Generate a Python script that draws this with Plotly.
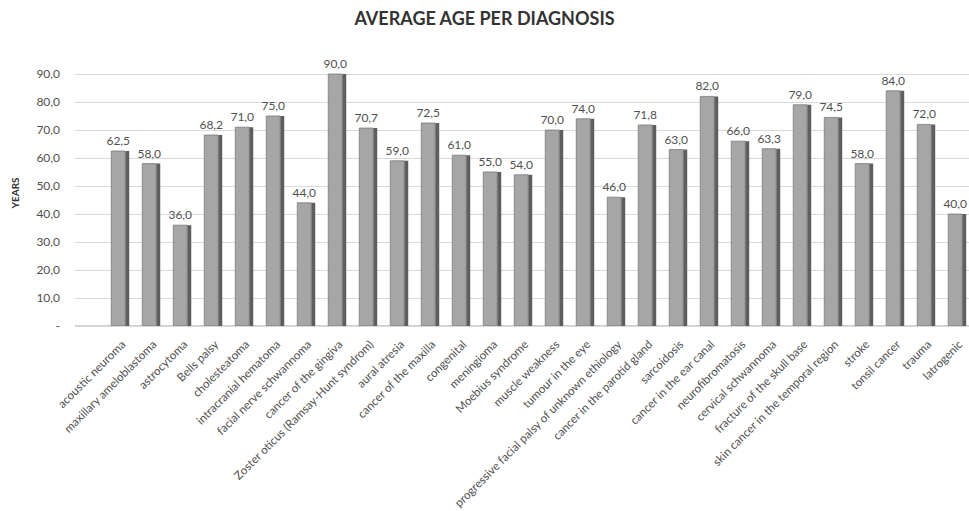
import plotly.graph_objects as go

categories = [
    "acoustic neuroma", "maxillary ameloblastoma", "astrocytoma", "Bells palsy",
    "cholesteatoma", "intracranial hematoma", "facial nerve schwannoma",
    "cancer of the gingiva", "Zoster oticus (Ramsay-Hunt syndrom)", "aural atresia",
    "cancer of the maxilla", "congenital", "meningioma", "Moebius syndrome",
    "muscle weakness", "tumour in the eye", "progressive facial palsy of unknown ethiology",
    "cancer in the parotid gland", "sarcoidosis", "cancer in the ear canal",
    "neurofibromatosis", "cervical schwannoma", "fracture of the skull base",
    "skin cancer in the temporal region", "stroke", "tonsil cancer", "trauma", "Iatrogenic",
]
avg_age = [62.5, 58.0, 36.0, 68.2, 71.0, 75.0, 44.0, 90.0, 70.7, 59.0, 72.5, 61.0,
           55.0, 54.0, 70.0, 74.0, 46.0, 71.8, 63.0, 82.0, 66.0, 63.3, 79.0, 74.5,
           58.0, 84.0, 72.0, 40.0]
y_ticks = [0, 10, 20, 30, 40, 50, 60, 70, 80, 90]
y_ticktext = ["-", "10,0", "20,0", "30,0", "40,0", "50,0", "60,0", "70,0", "80,0", "90,0"]

FONT = "Lato, Open Sans, sans-serif"

fig = go.Figure()
# side face (3D shading)
fig.add_trace(go.Bar(
    x=categories, y=avg_age, width=0.13, offset=0.1,
    marker=dict(color="#5e5e5e", line=dict(width=0)),
    hoverinfo="skip", showlegend=False,
))
# front face
fig.add_trace(go.Bar(
    x=categories, y=avg_age, width=0.45, offset=-0.35,
    marker=dict(color="#a6a6a6", line=dict(color="#7a7a7a", width=0.8)),
    texttemplate="%{y:.1f}", textposition="outside", constraintext="none",
    textfont=dict(family=FONT, size=12, color="#505050"),
    cliponaxis=False, showlegend=False,
))

fig.update_layout(
    width=969, height=511,
    margin=dict(l=75, r=0, t=60, b=185),
    paper_bgcolor="white", plot_bgcolor="white",
    barmode="overlay",
    separators=",.",
    title=dict(text="<b>AVERAGE AGE PER DIAGNOSIS</b>", x=0.5, xanchor="center",
               y=0.975, yanchor="top",
               font=dict(family=FONT, size=18, color="#333333")),
    font=dict(family=FONT, color="#505050"),
)
fig.update_xaxes(
    range=[-1.52, 27.32], tickangle=-45, tickfont=dict(size=11.6, color="#505050"),
    showgrid=False, showline=True, linecolor="#d9d9d9", ticks="",
    ticklabelstandoff=6,
)
fig.update_yaxes(
    range=[0, 95], tickvals=y_ticks, ticktext=y_ticktext,
    tickfont=dict(size=12, color="#505050"),
    showgrid=True, gridcolor="#d9d9d9", gridwidth=1,
    zeroline=True, zerolinecolor="#d0d0d0",
    title=dict(text="<b>YEARS</b>", font=dict(size=10, color="#333333"), standoff=14),
    ticklabelstandoff=14,
)

fig.write_html("out.html")
